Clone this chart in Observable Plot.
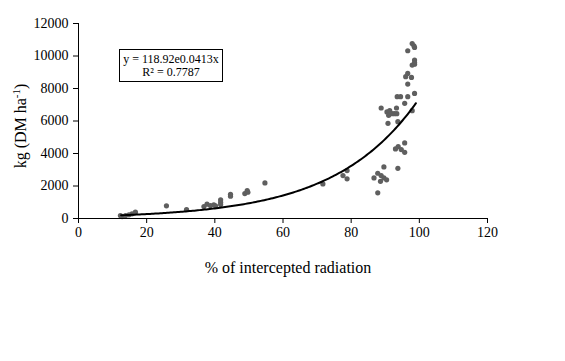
<!DOCTYPE html>
<html>
<head>
<meta charset="utf-8">
<script src="https://cdn.jsdelivr.net/npm/d3@7"></script>
<script src="https://cdn.jsdelivr.net/npm/@observablehq/plot@0.6"></script>
<style>
  html, body { margin: 0; padding: 0; background: #fff; }
  svg, svg text { font-family: "Liberation Serif", "Times New Roman", Times, "DejaVu Serif", serif !important; }
</style>
</head>
<body>
<div id="chart"></div>
<script>
const FONT = '"Liberation Serif", "Times New Roman", Times, "DejaVu Serif", serif';
const xValues = [12.3,12.8,13.8,14.8,15.7,16.7, 25.8, 31.7, 36.8,37.7,38.7,39.7,40.2, 41.7,41.7,41.7, 44.6,44.6, 48.8,49.5,49.7, 54.7, 71.7, 77.6,78.8,78.8,
  86.7,87.8,87.8,88.6,88.8,89.6,89.6,90.4,
  93.7, 93.0,93.8,94.7,95.7,95.7,
  90.8,93.7,
  88.8,93.3,90.5,91.3,92.0,92.7,93.4,91.0,
  97.9,
  95.7,93.5,94.5,96.6,98.6,96.6,96.0,97.7,96.6,98.6,97.9,98.6,98.6,96.6,97.9,98.4,98.6];
const yValues = [184,120,184,227,290,387, 780, 553, 737,880,800,840,780, 1150,1000,860, 1493,1372, 1536,1720,1616, 2191, 2130, 2640,2950,2440,
  2500,2785,1577,2290,2640,3175,2500,2380,
  3090, 4283,4424,4240,4075,4650,
  5858,5960,
  6800,6800,6560,6640,6450,6450,6450,6350,
  6636,
  7085,7500,7500,7500,7700,8270,8725,8680,8930,9500,9440,9750,9600,10322,10770,10630,10525];
const xTicks = [0, 20, 40, 60, 80, 100, 120];
const yTicks = [0, 2000, 4000, 6000, 8000, 10000, 12000];
const trendA = 118.92, trendB = 0.0413;
const trendRange = [12.5, 99];
const equationLines = ["y = 118.92e0.0413x", "R² = 0.7787"];

const points = xValues.map((x, i) => ({x, y: yValues[i]}));
const trend = d3.range(trendRange[0], trendRange[1] + 0.001, 0.5).map(x => ({x, y: trendA * Math.exp(trendB * x)}));

const plot = Plot.plot({
  width: 565,
  height: 361,
  marginLeft: 78,
  marginRight: 78,
  marginTop: 23,
  marginBottom: 143,
  style: {fontFamily: FONT, fontSize: "14px", color: "#000", background: "#fff"},
  x: {domain: [0, 120], ticks: xTicks},
  y: {domain: [0, 12000], ticks: yTicks},
  marks: [
    Plot.axisX({ticks: xTicks, tickSize: 5, tickPadding: 4, label: null, fontSize: 14, fontFamily: FONT}),
    Plot.axisY({ticks: yTicks, tickSize: 5, tickPadding: 5, label: null, tickFormat: d => String(d), fontSize: 14, fontFamily: FONT}),
    Plot.dot(points, {x: "x", y: "y", r: 2.6, fill: "#5f5f5f", stroke: "none"}),
    Plot.line(trend, {x: "x", y: "y", stroke: "#000", strokeWidth: 2}),
    Plot.ruleY([0], {stroke: "#000", strokeWidth: 1}),
    Plot.ruleX([0], {stroke: "#000", strokeWidth: 1})
  ]
});
document.getElementById("chart").appendChild(plot);

const svg = d3.select(plot);
svg.append("text")
  .attr("x", 288).attr("y", 273)
  .attr("text-anchor", "middle")
  .attr("font-family", FONT).attr("font-size", 16)
  .attr("fill", "#000")
  .text("% of intercepted radiation");
const yt = svg.append("text")
  .attr("transform", "translate(26,126) rotate(-90)")
  .attr("text-anchor", "middle")
  .attr("font-family", FONT).attr("font-size", 16)
  .attr("fill", "#000");
yt.append("tspan").text("kg (DM ha");
yt.append("tspan").attr("baseline-shift", "super").attr("font-size", 11).text("-1");
yt.append("tspan").text(")");
svg.append("rect")
  .attr("x", 119.5).attr("y", 49.5).attr("width", 103).attr("height", 32)
  .attr("fill", "#fff").attr("stroke", "#000").attr("stroke-width", 1);
equationLines.forEach((t, i) => {
  svg.append("text")
    .attr("x", 171).attr("y", 63 + i * 13)
    .attr("text-anchor", "middle")
    .attr("font-family", FONT).attr("font-size", 12)
    .attr("fill", "#000")
    .text(t);
});
</script>
</body>
</html>
